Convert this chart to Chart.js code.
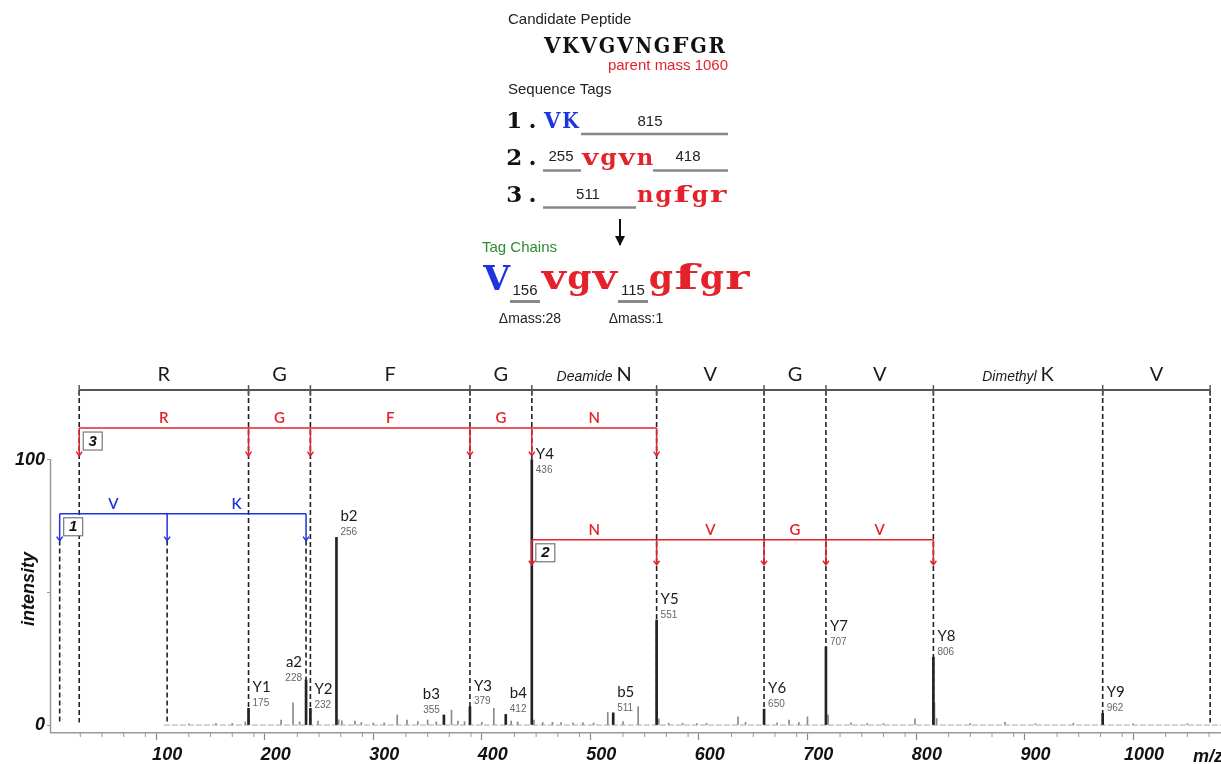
<!DOCTYPE html>
<html><head><meta charset="utf-8">
<script src="https://cdn.jsdelivr.net/npm/chart.js@4/dist/chart.umd.min.js"></script>
<style>html,body{margin:0;padding:0;background:#fff}#wrap{width:1221px;height:764px;position:relative}</style>
</head><body><div id="wrap"><canvas id="c"></canvas></div>
<script>
// ---------- data ----------
const xMajorTicks = [100, 200, 300, 400, 500, 600, 700, 800, 900, 1000];
const yTickLabels = [0, 100];
const peakIon = ['Y1', 'a2', 'Y2', 'b2', 'b3', 'Y3', 'b4', 'Y4', 'b5', 'Y5', 'Y6', 'Y7', 'Y8', 'Y9'];
const peakMz = [175, 228, 232, 256, 355, 379, 412, 436, 511, 551, 650, 707, 806, 962];
const peakIntensity = [6.3, 17, 6.3, 70.7, 3.8, 6.9, 4.0, 100, 4.6, 39.6, 6.0, 29.4, 25.6, 4.4];
const noiseMz = [120,145,160,172,205,216,222,239,258,261,273,279,290,300,312,321,331,340,348,362,368,374,390,401,417,423,438,446,455,463,474,483,493,506,520,534,553,562,575,588,597,626,633,662,673,682,690,709,730,745,760,789,807,809,840,872,900,935,990,1040];
const noiseIntensity = [0.5,0.6,0.6,1.2,1.9,8.4,1.2,1.5,2.0,1.6,1.5,1.0,0.8,0.8,3.8,1.9,1.3,1.9,1.2,5.6,1.5,1.3,1.0,6.3,1.5,1.2,1.9,1.0,1.0,0.9,0.8,0.9,0.8,4.8,1.3,6.9,2.3,0.7,0.7,0.6,0.7,3.1,1.0,0.8,1.9,1.0,3.1,3.8,0.8,0.6,0.6,2.3,8.4,2.5,0.6,1.0,0.5,0.7,0.5,0.5];
const baselineMz = [97, 1071];
const seqBoundaries = [19, 175, 232, 379, 436, 551, 650, 707, 806, 962, 1061];
const seqResidues = ['R', 'G', 'F', 'G', 'N', 'V', 'G', 'V', 'K', 'V'];
const seqMods = ['', '', '', '', 'Deamide', '', '', '', 'Dimethyl', ''];
const tag3Mz = [19, 175, 232, 379, 436, 551];
const tag3Letters = ['R', 'G', 'F', 'G', 'N'];
const tag1Mz = [1, 100, 228];
const tag1Letters = ['V', 'K'];
const tag2Mz = [436, 551, 650, 707, 806];
const tag2Letters = ['N', 'V', 'G', 'V'];
const candidatePeptide = 'VKVGVNGFGR';
const parentMass = 1060;
const tagRowNumbers = ['1.', '2.', '3.'];
const tagRowSequences = ['VK', 'vgvn', 'ngfgr'];
const tagRowGaps = [['815'], ['255', '418'], ['511']];
const chainParts = ['V', 'vgv', 'gfgr'];
const chainGaps = ['156', '115'];
const chainDeltas = ['\u0394mass:28', '\u0394mass:1'];

// ---------- layout / style ----------
const RED = '#e3222b', BLUE = '#1e34e0', GREEN = '#2e8b2e';
const SANS = '"Liberation Sans", Arial, sans-serif';
const SLAB = '"DejaVu Serif", serif';
const LABEL = 'Lato, "Open Sans", sans-serif';
const levels = { seqBar: 126.2, tag3: 111.9, tag3Tip: 101.5, tag1: 79.6, tag1Tip: 69.5, tag2: 69.8, tag2Tip: 60.4 };
const leftLabels = ['a2', 'b3'];
const labelDrop = { Y4: 16, a2: 3, Y2: 2 };

const minorTicks = [];
for (let v = 0; v <= 1060; v += 20) minorTicks.push(v);

function line(ctx, x1, y1, x2, y2) { ctx.beginPath(); ctx.moveTo(x1, y1); ctx.lineTo(x2, y2); ctx.stroke(); }

// typewriter-style drawing: each letter fitted into a fixed-width cell
function mono(ctx, text, x, base, pitch, fill) {
  ctx.textAlign = 'center'; ctx.textBaseline = 'alphabetic';
  [...text].forEach((ch, i) => {
    const w = ctx.measureText(ch).width;
    const target = /[A-Za-z]/.test(ch) ? pitch * (fill || 0.9) : Math.min(w, pitch * 0.9);
    const s = w > 0 ? target / w : 1;
    ctx.save(); ctx.translate(x + pitch * (i + 0.5), base); ctx.scale(s, 1);
    ctx.fillText(ch, 0, 0); ctx.restore();
  });
}

function drawTag(ctx, X, Y, mzs, letters, lvl, tip, color, num) {
  const y0 = Y(lvl), y1 = Y(tip);
  ctx.strokeStyle = color; ctx.fillStyle = color; ctx.lineWidth = 1.5; ctx.setLineDash([]);
  line(ctx, X(mzs[0]), y0, X(mzs[mzs.length - 1]), y0);
  mzs.forEach(m => {
    const px = X(m);
    line(ctx, px, y0, px, y1);
    ctx.beginPath(); ctx.moveTo(px - 3, y1 - 4); ctx.lineTo(px, y1); ctx.lineTo(px + 3, y1 - 4); ctx.stroke();
  });
  ctx.font = '600 15px ' + LABEL; ctx.textAlign = 'center'; ctx.textBaseline = 'middle';
  letters.forEach((l, i) => ctx.fillText(l, (X(mzs[i]) + X(mzs[i + 1])) / 2, y0 - 10));
  const bx = X(mzs[0]) + 4, by = y0 + 4;
  ctx.fillStyle = '#fff'; ctx.fillRect(bx, by, 19, 18);
  ctx.strokeStyle = '#777'; ctx.lineWidth = 1.2; ctx.strokeRect(bx, by, 19, 18);
  ctx.fillStyle = '#111'; ctx.font = 'italic bold 15px ' + SANS;
  ctx.fillText(num, bx + 9.5, by + 9.5);
}

const decor = {
  id: 'decor',
  beforeDatasetsDraw(chart) {
    const ctx = chart.ctx, xs = chart.scales.x, ys = chart.scales.y, ca = chart.chartArea;
    const X = v => xs.getPixelForValue(v), Y = v => ys.getPixelForValue(v);
    ctx.save();
    ctx.strokeStyle = '#999'; ctx.lineWidth = 1.5;
    line(ctx, ca.left - 0.5, Y(100), ca.left - 0.5, ca.bottom);
    ctx.lineWidth = 1;
    minorTicks.forEach(v => { if (v % 100 !== 0) line(ctx, X(v), ca.bottom, X(v), ca.bottom + 4); });
    ctx.setLineDash([5, 3]); ctx.strokeStyle = '#222'; ctx.lineWidth = 1.6;
    seqBoundaries.forEach(m => line(ctx, X(m), Y(levels.seqBar), X(m), Y(1)));
    tag1Mz.forEach(m => line(ctx, X(m), Y(levels.tag1Tip), X(m), Y(1)));
    ctx.setLineDash([]);
    ctx.restore();
  },
  afterDatasetsDraw(chart) {
    const ctx = chart.ctx, xs = chart.scales.x, ys = chart.scales.y;
    const X = v => xs.getPixelForValue(v), Y = v => ys.getPixelForValue(v);
    ctx.save();
    // sequence bar
    const by = Y(levels.seqBar);
    ctx.strokeStyle = '#555'; ctx.lineWidth = 2;
    line(ctx, X(seqBoundaries[0]), by, X(seqBoundaries[seqBoundaries.length - 1]), by);
    ctx.lineWidth = 1.5;
    seqBoundaries.forEach(m => line(ctx, X(m), by - 5, X(m), by + 6));
    ctx.fillStyle = '#1a1a1a'; ctx.textBaseline = 'alphabetic';
    seqResidues.forEach((r, i) => {
      const cx = (X(seqBoundaries[i]) + X(seqBoundaries[i + 1])) / 2;
      const ty = by - 9;
      ctx.font = '20px ' + LABEL;
      const rw = ctx.measureText(r).width;
      if (seqMods[i]) {
        ctx.font = 'italic 14px ' + SANS;
        const mw = ctx.measureText(seqMods[i] + ' ').width;
        const sx = cx - (mw + rw) / 2;
        ctx.textAlign = 'left';
        ctx.fillText(seqMods[i] + ' ', sx, ty);
        ctx.font = '20px ' + LABEL;
        ctx.fillText(r, sx + mw, ty);
      } else {
        ctx.textAlign = 'center';
        ctx.fillText(r, cx, ty);
      }
    });
    drawTag(ctx, X, Y, tag3Mz, tag3Letters, levels.tag3, levels.tag3Tip, RED, '3');
    drawTag(ctx, X, Y, tag1Mz, tag1Letters, levels.tag1, levels.tag1Tip, BLUE, '1');
    drawTag(ctx, X, Y, tag2Mz, tag2Letters, levels.tag2, levels.tag2Tip, RED, '2');
    // peak labels
    peakIon.forEach((ion, i) => {
      const px = X(peakMz[i]), top = Y(peakIntensity[i]) + (labelDrop[ion] || 0);
      const left = leftLabels.includes(ion);
      ctx.textAlign = left ? 'right' : 'left';
      ctx.textBaseline = 'middle';
      const tx = left ? px - 4 : px + 4;
      ctx.fillStyle = '#1a1a1a'; ctx.font = '15px ' + LABEL;
      ctx.fillText(ion, tx, top - 21);
      ctx.fillStyle = '#666'; ctx.font = '10px ' + SANS;
      ctx.fillText(String(peakMz[i]), tx, top - 5);
    });
    // axis titles
    ctx.fillStyle = '#111'; ctx.font = 'italic bold 18px ' + SANS;
    ctx.save(); ctx.translate(29, 589); ctx.rotate(-Math.PI / 2);
    ctx.textAlign = 'center'; ctx.textBaseline = 'middle'; ctx.fillText('intensity', 0, 0); ctx.restore();
    ctx.textAlign = 'left'; ctx.textBaseline = 'alphabetic'; ctx.fillText('m/z', 1193, 762);

    // ---------- header panel ----------
    ctx.textBaseline = 'middle'; ctx.textAlign = 'left';
    ctx.fillStyle = '#222'; ctx.font = '15px ' + SANS;
    ctx.fillText('Candidate Peptide', 508, 20);
    ctx.fillText('Sequence Tags', 508, 90);
    ctx.font = 'bold 23px ' + SLAB; ctx.fillStyle = '#111';
    mono(ctx, candidatePeptide, 543, 53, 18.3);
    ctx.textAlign = 'right'; ctx.textBaseline = 'middle'; ctx.fillStyle = RED; ctx.font = '15px ' + SANS;
    ctx.fillText('parent mass ' + parentMass, 728, 66);
    // tag rows
    const rowBase = [128, 165, 201.5];
    ctx.font = 'bold 23px ' + SLAB;
    rowBase.forEach((b, i) => { ctx.fillStyle = '#111'; mono(ctx, tagRowNumbers[i], 505, b, 18.3); });
    ctx.fillStyle = BLUE; mono(ctx, tagRowSequences[0], 543, 128, 18.3);
    ctx.fillStyle = RED; mono(ctx, tagRowSequences[1], 581, 165, 18.3);
    mono(ctx, tagRowSequences[2], 636, 201.5, 18.3);
    ctx.strokeStyle = '#888'; ctx.lineWidth = 2.7;
    line(ctx, 581, 134, 728, 134);
    line(ctx, 543, 170.5, 581, 170.5);
    line(ctx, 653, 170.5, 728, 170.5);
    line(ctx, 543, 207.5, 636, 207.5);
    ctx.fillStyle = '#222'; ctx.font = '15px ' + SANS; ctx.textAlign = 'center'; ctx.textBaseline = 'middle';
    ctx.fillText(tagRowGaps[0][0], 650, 122);
    ctx.fillText(tagRowGaps[1][0], 561, 157);
    ctx.fillText(tagRowGaps[1][1], 688, 157);
    ctx.fillText(tagRowGaps[2][0], 588, 195);
    // arrow
    ctx.strokeStyle = '#111'; ctx.lineWidth = 2;
    line(ctx, 620, 219, 620, 245);
    ctx.beginPath(); ctx.moveTo(615, 236); ctx.lineTo(620, 246); ctx.lineTo(625, 236); ctx.closePath(); ctx.fillStyle = '#111'; ctx.fill();
    // tag chains
    ctx.textAlign = 'left'; ctx.fillStyle = GREEN; ctx.font = '15px ' + SANS;
    ctx.fillText('Tag Chains', 482, 248);
    ctx.font = 'bold 34px ' + SLAB;
    ctx.fillStyle = BLUE; mono(ctx, chainParts[0], 484, 290, 25.5, 1.05);
    ctx.fillStyle = RED; mono(ctx, chainParts[1], 541, 289, 25.5, 0.95);
    mono(ctx, chainParts[2], 648, 289, 25.5, 0.95);
    ctx.strokeStyle = '#888'; ctx.lineWidth = 3;
    line(ctx, 510, 301.5, 540, 301.5);
    line(ctx, 618, 301.5, 648, 301.5);
    ctx.fillStyle = '#222'; ctx.font = '15px ' + SANS; ctx.textAlign = 'center'; ctx.textBaseline = 'middle';
    ctx.fillText(chainGaps[0], 525, 291);
    ctx.fillText(chainGaps[1], 633, 291);
    ctx.font = '14px ' + SANS;
    ctx.fillText(chainDeltas[0], 530, 319);
    ctx.fillText(chainDeltas[1], 636, 319);
    ctx.restore();
  }
};

new Chart(document.getElementById('c'), {
  type: 'bar',
  data: {
    datasets: [
      { type: 'line', data: baselineMz.map(m => ({ x: m, y: 0 })), borderColor: '#aaa', borderWidth: 1, borderDash: [6, 2], pointRadius: 0, order: 3 },
      { data: noiseMz.map((m, i) => ({ x: m, y: noiseIntensity[i] })), backgroundColor: '#8a8a8a', barThickness: 1, grouped: false, order: 2 },
      { data: peakMz.map((m, i) => ({ x: m, y: peakIntensity[i] })), backgroundColor: '#222', barThickness: 2, grouped: false, order: 1 }
    ]
  },
  options: {
    responsive: true, maintainAspectRatio: false, animation: false, events: [],
    layout: { padding: { top: 380, left: 0, right: 0, bottom: 0 } },
    plugins: { legend: { display: false }, tooltip: { enabled: false } },
    scales: {
      x: {
        type: 'linear', min: -7, max: 1071, offset: false,
        afterBuildTicks: s => { s.ticks = minorTicks.map(v => ({ value: v })); },
        afterFit: s => { s.height = 31; },
        ticks: { autoSkip: false, maxRotation: 0, padding: 4, color: '#111',
          font: { family: SANS, size: 18, style: 'italic', weight: 'bold' },
          callback: v => xMajorTicks.includes(v) ? String(v) : '' },
        grid: { drawOnChartArea: false, drawTicks: true, tickLength: 7, tickWidth: 1.2,
          tickColor: c => (c.tick && c.tick.value % 100 === 0) ? '#888' : 'rgba(0,0,0,0)' },
        border: { display: true, color: '#999', width: 1.5 }
      },
      y: {
        type: 'linear', min: -3, max: 130,
        afterBuildTicks: s => { s.ticks = [0, 50, 100].map(v => ({ value: v })); },
        afterFit: s => { s.width = 51; },
        ticks: { padding: 2, color: '#111', font: { family: SANS, size: 18, style: 'italic', weight: 'bold' },
          callback: v => yTickLabels.includes(v) ? String(v) : '' },
        grid: { drawOnChartArea: false, drawTicks: true, tickLength: 4, tickColor: '#999' },
        border: { display: false }
      }
    }
  },
  plugins: [decor]
});
</script></body></html>
